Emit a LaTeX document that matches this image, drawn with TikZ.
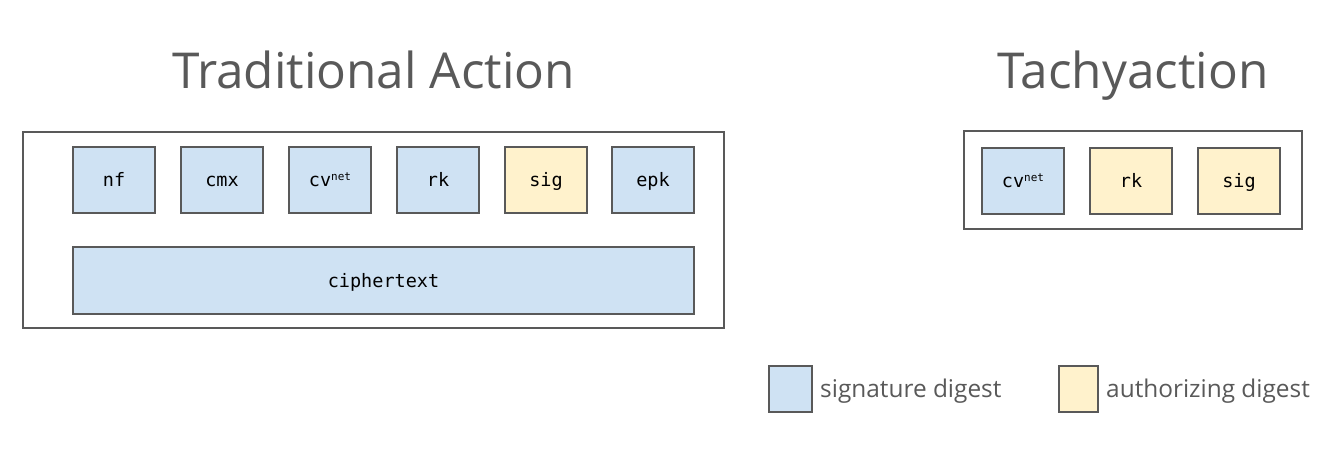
\documentclass[tikz,border=0pt]{standalone}
\usepackage{fontspec}
\setmainfont{Open Sans}
\newfontfamily\codefont{DejaVu Sans Mono}
\definecolor{bluefill}{HTML}{CFE2F3}
\definecolor{yellowfill}{HTML}{FFF2CC}
\definecolor{edgegray}{HTML}{595959}
\begin{document}
\begin{tikzpicture}[x=1pt,y=-1pt,
  frame/.style={draw=edgegray,line width=1.6pt},
  field/.style={draw=edgegray,line width=1.6pt,font=\codefont\fontsize{18.5}{22}\selectfont,text=black,text height=13pt,text depth=0pt},
  sigd/.style={field,fill=bluefill},
  authd/.style={field,fill=yellowfill},
  titletext/.style={text=edgegray,font=\fontsize{49.5}{58}\selectfont,anchor=base},
  legendtext/.style={text=edgegray,font=\fontsize{24.4}{28}\selectfont,anchor=base west,inner sep=0pt}]
\useasboundingbox (0,0) rectangle (1332,469);
\node[titletext] (t1) at (373.5,88) {Traditional Action};
\node[titletext] (t2) at (1133,88) {Tachyaction};
% left
\draw[frame] (23,132) rectangle (724,328);
\node[sigd,minimum width=82pt,minimum height=66pt] (nf) at (114,180) {nf};
\node[sigd,minimum width=82pt,minimum height=66pt] (cmx) at (222,180) {cmx};
\node[sigd,minimum width=82pt,minimum height=66pt] (cv) at (330,180) {cv\raisebox{0.55ex}{\fontsize{11}{12}\selectfont net}};
\node[sigd,minimum width=82pt,minimum height=66pt] (rk) at (438,180) {rk};
\node[authd,minimum width=82pt,minimum height=66pt] (sig) at (546,180) {sig};
\node[sigd,minimum width=82pt,minimum height=66pt] (epk) at (653,180) {epk};
\node[sigd,minimum width=621pt,minimum height=67pt] (ct) at (383.5,280.5) {ciphertext};
% right
\draw[frame] (964,131) rectangle (1302,229);
\node[sigd,minimum width=82pt,minimum height=66pt] (cv2) at (1023,181) {cv\raisebox{0.55ex}{\fontsize{11}{12}\selectfont net}};
\node[authd,minimum width=82pt,minimum height=66pt] (rk2) at (1131,181) {rk};
\node[authd,minimum width=82pt,minimum height=66pt] (sig2) at (1239,181) {sig};
% legend
\node[draw=edgegray,line width=1.6pt,fill=bluefill,minimum width=43pt,minimum height=46pt] (lb) at (790.5,389) {};
\node[legendtext] (lbt) at (820,397) {signature digest};
\node[draw=edgegray,line width=1.6pt,fill=yellowfill,minimum width=39pt,minimum height=46pt] (ly) at (1078.5,389) {};
\node[legendtext] (lyt) at (1106,397) {authorizing digest};
\end{tikzpicture}
\end{document}
